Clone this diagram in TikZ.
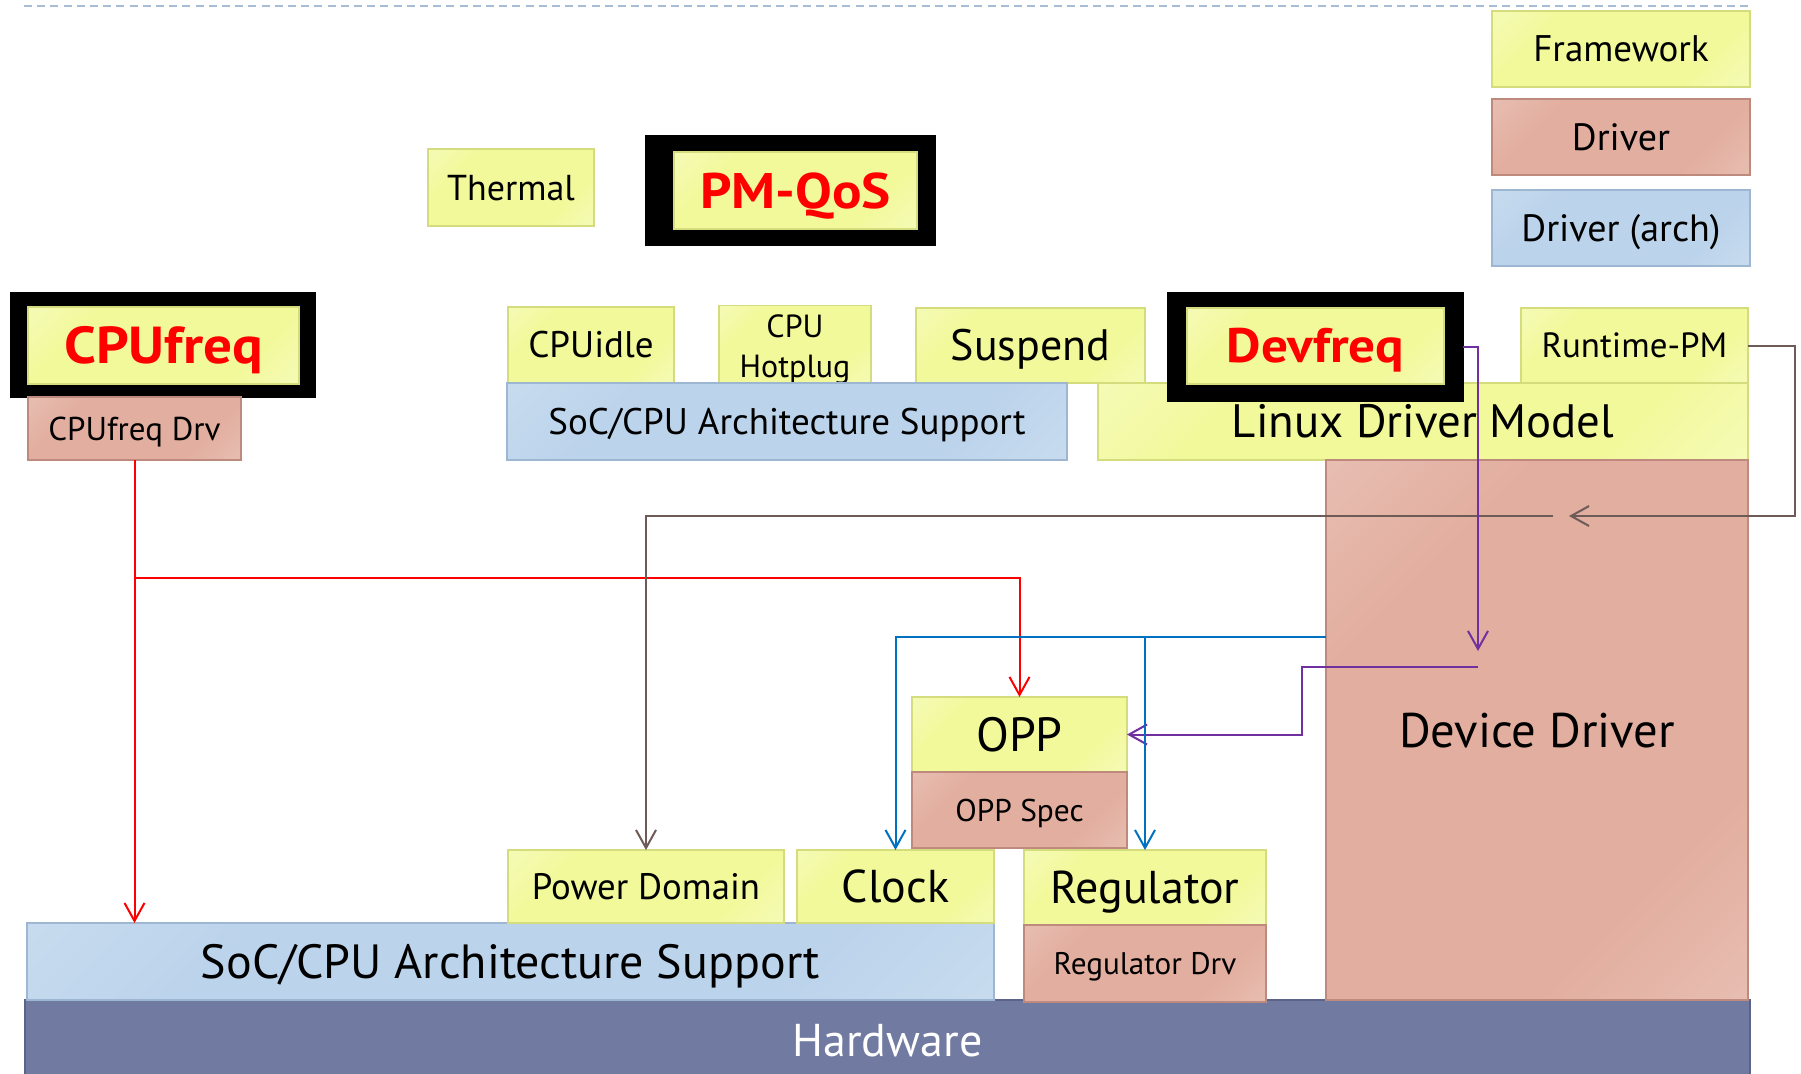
\documentclass[tikz,border=0pt]{standalone}
\usepackage{fontspec}
\setmainfont{PT Sans}[BoldFeatures={FakeStretch=1.1}]
\usetikzlibrary{arrows.meta}

\definecolor{fwmid}{HTML}{F2F99A}
\definecolor{fwlight}{HTML}{F8FBD0}
\definecolor{fwline}{HTML}{D5DC7E}
\definecolor{drvmid}{HTML}{E2AE9F}
\definecolor{drvlight}{HTML}{ECCDC3}
\definecolor{drvline}{HTML}{BF8A7E}
\definecolor{archmid}{HTML}{BBD3EB}
\definecolor{archlight}{HTML}{D4E3F2}
\definecolor{archline}{HTML}{9DB7D3}
\definecolor{hwfill}{HTML}{717AA0}
\definecolor{hwline}{HTML}{5B6388}
\definecolor{sepline}{HTML}{A7BDD6}
\definecolor{hotred}{HTML}{FF0000}
\definecolor{linkred}{HTML}{FF0000}
\definecolor{linkblue}{HTML}{0070C0}
\definecolor{linkpurple}{HTML}{7030A0}
\definecolor{linkbrown}{HTML}{6E5A56}

% soft fills: pale at both ends, full colour across the middle
\pgfdeclarehorizontalshading{fwshade}{100bp}{color(0bp)=(fwlight); color(30bp)=(fwmid); color(70bp)=(fwmid); color(100bp)=(fwlight)}
\pgfdeclarehorizontalshading{drvshade}{100bp}{color(0bp)=(drvlight); color(30bp)=(drvmid); color(70bp)=(drvmid); color(100bp)=(drvlight)}
\pgfdeclarehorizontalshading{archshade}{100bp}{color(0bp)=(archlight); color(30bp)=(archmid); color(70bp)=(archmid); color(100bp)=(archlight)}

% highlighted framework names
\newcommand{\hot}[1]{\textcolor{hotred}{\bfseries #1}}

% \blk{name}{style}{x1}{y1}{x2}{y2}{font size}{text}: box between two corners (px)
\newcommand{\blk}[8]{%
  \node[#2, minimum width={(#5-#3)*0.5pt}, minimum height={(#6-#4)*0.5pt},
        font=\fontsize{#7}{#7}\selectfont, text height={0.7*#7pt}, text depth=0pt]
    (#1) at ({(#3+#5)/2},{(#4+#6)/2}) {#8};}

\begin{document}
\begin{tikzpicture}[x=0.5pt, y=-0.5pt,
  box/.style={rectangle, inner sep=0pt, outer sep=0pt, line width=0.7pt, align=center},
  fw/.style={box, draw=fwline, shading=fwshade, shading angle=-45},
  drv/.style={box, draw=drvline, shading=drvshade, shading angle=-45},
  arch/.style={box, draw=archline, shading=archshade, shading angle=-45},
  frame/.style={box, fill=black, draw=black},
  hw/.style={box, fill=hwfill, draw=hwline, line width=1pt, text=white},
  sep/.style={draw=sepline, line width=0.9pt, dash pattern=on 4pt off 2.6pt},
  link/.style={line width=1pt, -{Straight Barb[length=9pt,width=10pt]}},
  redlink/.style={link, draw=linkred},
  bluelink/.style={link, draw=linkblue},
  purplelink/.style={link, draw=linkpurple},
  brownlink/.style={link, draw=linkbrown},
]
\useasboundingbox (0,0) rectangle (1801,1073);
\clip (0,0) rectangle (1801,1073);

% separator along the top
\coordinate (sepL) at (24,6);
\coordinate (sepR) at (1752,6);
\draw[sep] (sepL) -- (sepR);

% legend
\blk{lgfw}{fw}{1492}{11}{1750}{87}{18.5}{Framework}
\blk{lgdrv}{drv}{1492}{99}{1750}{175}{19}{Driver}
\blk{lgarch}{arch}{1492}{190}{1750}{266}{19}{Driver (arch)}

% policy frameworks
\blk{thermal}{fw}{428}{149}{594}{226}{18}{Thermal}
\blk{qosframe}{frame}{646}{136}{935}{245}{10}{}
\blk{qos}{fw}{674}{152}{917}{229}{25}{\hot{PM-QoS}}

\blk{cpuframe}{frame}{11}{293}{315}{397}{10}{}
\blk{cpufreq}{fw}{28}{307}{299}{384}{26}{\hot{CPUfreq}}
\blk{cpudrv}{drv}{28}{397}{241}{460}{16.5}{CPUfreq Drv}

\blk{cpuidle}{fw}{508}{307}{674}{383}{18.5}{CPUidle}
\node[fw, minimum width=76pt, minimum height=38pt, font=\fontsize{16}{20}\selectfont]
  (hotplug) at (795,345) {\rule{0pt}{16pt}CPU\\Hotplug};
\blk{suspend}{fw}{916}{308}{1145}{383}{22}{Suspend}
\blk{socup}{arch}{507}{383}{1067}{460}{18.5}{SoC/CPU Architecture Support}

\blk{ldm}{fw}{1098}{383}{1748}{460}{23.4}{Linux Driver Model}
\blk{devframe}{frame}{1168}{293}{1463}{401}{10}{}
\blk{devfreq}{fw}{1187}{308}{1444}{384}{24.2}{\hot{Devfreq}}
\blk{rpm}{fw}{1521}{308}{1748}{383}{17.5}{Runtime-PM}

% hardware and the layers above it
\blk{hw}{hw}{25}{1000}{1750}{1080}{23}{Hardware}
\blk{ddrv}{drv}{1326}{460}{1748}{1000}{24.3}{Device Driver}
\blk{socb}{arch}{27}{923}{994}{1000}{24}{SoC/CPU Architecture Support}
\blk{pd}{fw}{508}{850}{784}{923}{18.4}{Power Domain}
\blk{clock}{fw}{797}{850}{994}{923}{23}{Clock}
\blk{opp}{fw}{912}{697}{1127}{772}{24}{OPP}
\blk{oppspec}{drv}{912}{772}{1127}{848}{15.7}{OPP Spec}
\blk{reg}{fw}{1024}{850}{1266}{925}{23}{Regulator}
\blk{regdrv}{drv}{1024}{925}{1266}{1002}{15.6}{Regulator Drv}

% CPUfreq driver paths
\coordinate (redsplit) at (cpudrv.south |- 0,578);
\draw[redlink] (cpudrv.south) -- (cpudrv.south |- socb.north);
\draw[redlink] (redsplit) -| (opp.north);

% runtime PM into the device driver, device driver to power domain
\coordinate (rpmin) at (1569,516);
\coordinate (pdout) at (1553,516);
\draw[brownlink] (rpm.east) -- ++(47,0) |- (rpmin);
\draw[brownlink] (pdout) -| (pd.north);

% devfreq into the device driver, device driver to OPP
\coordinate (devin) at (1478,651);
\coordinate (devout) at (1478,667);
\coordinate (devbend) at (1302,667);
\draw[purplelink] (devframe.east) -| (devin);
\draw[purplelink] (devout) -- (devbend) |- (opp.east);

% device driver to clock and regulator
\coordinate (ddclk) at (ddrv.west |- 0,637);
\draw[bluelink] (ddclk) -| (clock.north);
\draw[bluelink] (ddclk) -| (reg.north);
\end{tikzpicture}
\end{document}
